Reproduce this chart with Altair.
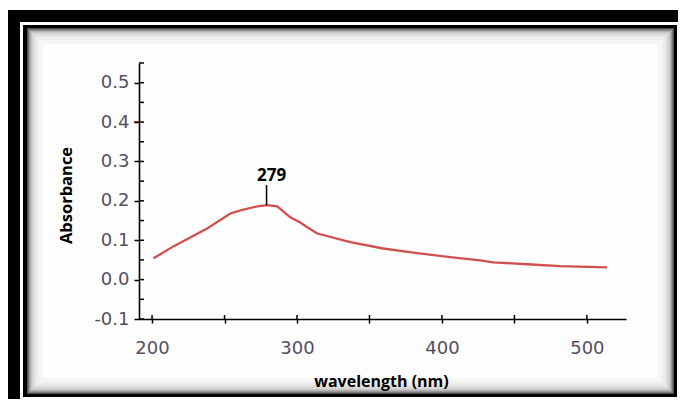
import altair as alt
import pandas as pd

# ---- data ----
wavelength = [201, 215, 238, 254, 261, 272.6, 279.5, 286.4, 295.4, 302.3, 307.1, 314,
              336.8, 359.5, 383, 405.7, 426.4, 435.4, 458.8, 481.6, 514]
absorbance = [0.054, 0.085, 0.130, 0.168, 0.176, 0.186, 0.189, 0.186, 0.158, 0.145, 0.133, 0.117,
              0.095, 0.079, 0.067, 0.057, 0.049, 0.044, 0.039, 0.034, 0.031]
x_ticks = [200, 250, 300, 350, 400, 450, 500]
y_ticks = [-0.1, -0.05, 0.0, 0.05, 0.1, 0.15, 0.2, 0.25, 0.3, 0.35, 0.4, 0.45, 0.5, 0.55]
peak_wl = [279]
peak_abs = [0.189]
peak_top = [0.24]
peak_label = ["279"]
red_tick = [0.4]

W, H = 487, 256
X_DOM = [191, 527]
Y_DOM = [-0.1, 0.55]

df = pd.DataFrame({"wl": wavelength, "abs": absorbance})
peak = pd.DataFrame({"wl": peak_wl, "a": peak_abs, "top": peak_top, "lab": peak_label})
xt = pd.DataFrame({"v": x_ticks})
yt = pd.DataFrame({"v": y_ticks})
rt = pd.DataFrame({"v": red_tick})
one = pd.DataFrame({"k": [0]})

xs = alt.Scale(domain=X_DOM, nice=False, zero=False)
ys = alt.Scale(domain=Y_DOM, nice=False, zero=False)

# ---- decorative frame (plot-relative pixels; plot origin at page 139,63) ----
def frame_rect(x0, y0, x1, y1, color):
    return alt.Chart(one).mark_rect(color=color, strokeWidth=0).encode(
        x=alt.value(x0), x2=alt.value(x1), y=alt.value(y0), y2=alt.value(y1))

layers = [
    frame_rect(-131, -53, 547, 340, "#000000"),
    frame_rect(-119, -41, 547, 340, "#ffffff"),
    frame_rect(-116, -38, 538, 334, "#000000"),
]
shade = [(0, "#505050"), (1, "#767676"), (2, "#989898"), (3, "#b2b2b2"), (4, "#c6c6c6"),
         (5, "#d6d6d6"), (7, "#e4e4e4"), (9, "#eeeeee"), (12, "#f6f6f6"), (16, "#fdfdfd")]
for inset, col in shade:
    layers.append(frame_rect(-112 + inset, -35 + inset, 535 - inset, 331 - inset, col))

label_font = "DejaVu Sans"
label_color = "#574d63"

x_axis = alt.Axis(values=x_ticks, tickSize=4, tickWidth=1.5, tickColor="black",
                  domainColor="black", domainWidth=1.6, grid=False,
                  labelExpr="datum.value % 100 == 0 ? format(datum.value, 'd') : ''",
                  labelFont=label_font, labelFontSize=18, labelColor=label_color,
                  labelPadding=16, labelOverlap=False,
                  title="wavelength (nm)", titleFont="Open Sans", titleFontSize=16,
                  titleFontWeight="bold", titleColor="black",
                  titleX=242, titleY=62, titleBaseline="middle", zindex=1)
y_axis = alt.Axis(values=y_ticks, tickSize=5, tickWidth=1.5, tickColor="black",
                  domainColor="black", domainWidth=1.6, grid=False,
                  labelExpr="abs(round(datum.value*20)) % 2 == 1 || datum.value > 0.52 ? '' : "
                            "(datum.value < -0.001 ? '-' + format(-datum.value, '.1f') : format(abs(datum.value), '.1f'))",
                  labelFont=label_font, labelFontSize=18, labelColor=label_color,
                  labelPadding=5, labelOverlap=False,
                  title="Absorbance", titleFont="Open Sans", titleFontSize=16.5,
                  titleFontWeight="bold", titleColor="black",
                  titleX=-73, titleY=132, titleBaseline="middle", titleAngle=270, zindex=1)

line = alt.Chart(df).mark_line(color="#d05050", strokeWidth=2.3).encode(
    x=alt.X("wl:Q", scale=xs, axis=x_axis),
    y=alt.Y("abs:Q", scale=ys, axis=y_axis))

# inward halves of the crossing ticks
y_in = alt.Chart(yt).mark_rule(color="black", strokeWidth=1.5).encode(
    y=alt.Y("v:Q", scale=ys), x=alt.value(0), x2=alt.value(5))
x_in = alt.Chart(xt).mark_rule(color="black", strokeWidth=1.5).encode(
    x=alt.X("v:Q", scale=xs), y=alt.value(H), y2=alt.value(H - 4))
red = alt.Chart(rt).mark_rule(color="#d03030", strokeWidth=2).encode(
    y=alt.Y("v:Q", scale=ys), x=alt.value(-5), x2=alt.value(1))

peak_rule = alt.Chart(peak).mark_rule(color="black", strokeWidth=1.5).encode(
    x=alt.X("wl:Q", scale=xs), y=alt.Y("a:Q", scale=ys), y2="top:Q")
peak_text = alt.Chart(peak).mark_text(font="Open Sans", fontSize=17, fontWeight="bold",
                                      color="black", baseline="alphabetic", dy=-4, dx=5).encode(
    x=alt.X("wl:Q", scale=xs), y=alt.Y("top:Q", scale=ys), text="lab:N")

layers += [line, y_in, x_in, red, peak_rule, peak_text]

chart = alt.layer(*layers).properties(
    width=W, height=H,
    autosize=alt.AutoSizeParams(type="none"),
    padding={"left": 131, "top": 55, "right": 52, "bottom": 80},
    background="white",
).configure_view(strokeWidth=0)

chart.save("out.html", embed_options={"renderer": "svg", "actions": False})
